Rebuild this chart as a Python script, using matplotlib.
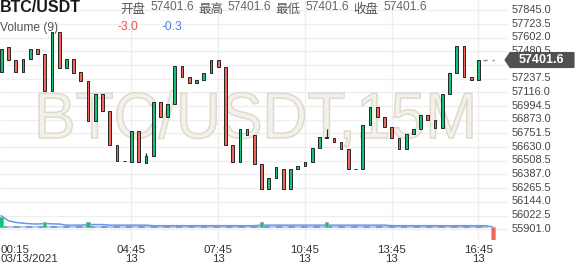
import numpy as np
import pandas as pd
import matplotlib
matplotlib.use("Agg")
import matplotlib.pyplot as plt
from matplotlib.transforms import blended_transform_factory, Affine2D
from matplotlib.textpath import TextPath
from matplotlib.font_manager import FontProperties
from matplotlib.patches import PathPatch, Polygon

# ---------------- data ----------------
opens = [57294, 57516, 57405, 57294, 57410, 57499, 57454, 57131, 57650, 57330,
         57410, 57294, 57220, 56862, 57099, 56951, 56646, 56509, 56500, 56773,
         56491, 56551, 57028, 56895, 57010, 57350, 57250, 57197, 57223, 57285,
         57401, 57339, 56646, 56495, 56788, 56735, 56477, 56255, 56353, 56433,
         56255, 56433, 56462, 56495, 56619, 56717, 56708, 56673, 56610, 56438,
         56438, 56824, 56983, 56900, 56811, 56708, 56610, 56744, 56788, 56912,
         56871, 56797, 57099, 57285, 57528, 57255, 57223]
closes = [57499, 57405, 57294, 57410, 57499, 57454, 57131, 57650, 57330, 57410,
          57285, 57220, 56862, 57099, 56951, 56646, 56509, 56509, 56773, 56500,
          56551, 57028, 56895, 57010, 57350, 57250, 57197, 57223, 57285, 57401,
          57339, 56646, 56495, 56788, 56735, 56477, 56255, 56353, 56453, 56255,
          56433, 56462, 56495, 56619, 56717, 56712, 56673, 56610, 56433, 56438,
          56824, 56983, 56900, 56811, 56708, 56610, 56744, 56788, 56912, 56871,
          56797, 57099, 57285, 57528, 57255, 57223, 57401.6]
highs = [57499, 57516, 57405, 57410, 57499, 57499, 57454, 57650, 57650, 57410,
         57410, 57294, 57220, 57099, 57099, 56951, 56646, 56509, 56773, 56773,
         56580, 57028, 57028, 57010, 57350, 57350, 57250, 57223, 57285, 57401,
         57401, 57339, 56646, 56788, 56788, 56735, 56477, 56353, 56453, 56433,
         56433, 56462, 56495, 56619, 56717, 56788, 56708, 56673, 56610, 56438,
         56824, 56983, 56983, 56900, 56811, 56708, 56744, 56788, 56912, 56912,
         56871, 57099, 57285, 57528, 57528, 57255, 57401.6]
lows = [57294, 57405, 57294, 57294, 57410, 57454, 57131, 57131, 57330, 57330,
        57285, 57220, 56862, 56862, 56951, 56646, 56509, 56509, 56500, 56500,
        56491, 56551, 56895, 56895, 57010, 57250, 57197, 57197, 57223, 57285,
        57339, 56646, 56495, 56495, 56735, 56477, 56255, 56255, 56353, 56255,
        56255, 56433, 56462, 56495, 56619, 56708, 56673, 56610, 56433, 56438,
        56438, 56824, 56900, 56811, 56708, 56610, 56610, 56744, 56788, 56871,
        56797, 56797, 57099, 57285, 57255, 57223, 57223]

vol_idx = [0, 6, 12, 36, 45, 68]
vol_val = [2.3, 1.2, 1.2, 1.2, 1.2, -3.0]
vol_ma_period = 9

price_ticks = [57845.0, 57723.5, 57602.0, 57480.5, 57359.0, 57237.5, 57116.0,
               56994.5, 56873.0, 56751.5, 56630.0, 56508.5, 56387.0, 56265.5,
               56144.0, 56022.5, 55901.0]
tick_idx = [18, 30, 42, 54, 66]
tick_time = ['04:45', '07:45', '10:45', '13:45', '16:45']
tick_day = ['13', '13', '13', '13', '13']
first_time = '00:15'
first_date = '03/13/2021'
last_price = 57401.6
symbol = 'BTC/USDT'
watermark = 'BTC/USDT,15M'
ohlc_names = ['开盘', '最高', '最低', '收盘']
ohlc_vals = ['57401.6', '57401.6', '57401.6', '57401.6']
vol_title = 'Volume (9)'
vol_last = '-3.0'
ma_last = '-0.3'

# ---------------- style ----------------
W, H = 576, 268
GREEN = '#12c27a'
RED = '#f2665a'
EDGE = '#262626'
GRID = '#efefef'
TXT = '#444444'
LAT = 'Liberation Sans'
CJK = ['Noto Sans CJK SC', 'Liberation Sans']

def fx(px):
    return px / W

def fy(py):
    return 1 - py / H

def pt(px):
    return px * 72 / 100.0

fig = plt.figure(figsize=(W / 100, H / 100), dpi=100)
fig.patch.set_facecolor('white')

PLOT_R = 508
PLOT_B = 240
ax = fig.add_axes([0, fy(PLOT_B), fx(PLOT_R), PLOT_B / H])
ax.set_facecolor('none')
for s in ax.spines.values():
    s.set_visible(False)
ax.set_xticks([])
ax.set_yticks([])

step_px = 7.23
x0_px = 1.3
ax.set_xlim((0 - x0_px) / step_px, (PLOT_R - x0_px) / step_px)
pp = 121.5 / 13.68
ax.set_ylim(57845 - (PLOT_B - 10.3) * pp, 57845 + 10.3 * pp)

xmin, xmax = ax.get_xlim()
ax.hlines(price_ticks, xmin, xmax, color=GRID, lw=1, zorder=0.5)
ax.vlines(tick_idx, *ax.get_ylim(), color=GRID, lw=1, zorder=0.5)

# watermark as outlined text path fitted to its box
tp = TextPath((0, 0), watermark, size=1, prop=FontProperties(family=LAT))
verts = tp.vertices
bx0, bx1 = verts[:, 0].min(), verts[:, 0].max()
cap = 0.716
sx = (472 - 34) / (bx1 - bx0)
sy = (138 - 91.5) / cap
tr = Affine2D().translate(-bx0, 0).scale(sx / W, sy / H).translate(fx(34), fy(138))
wm = PathPatch(tr.transform_path(tp), transform=fig.transFigure, facecolor='#f3f1ea',
               edgecolor='#dfdacd', lw=1.1, zorder=1, clip_on=False)
ax.add_artist(wm)

# candles
idx = np.arange(len(opens))
for i, o, h, l, c in zip(idx, opens, highs, lows, closes):
    if h > max(o, c) or l < min(o, c):
        ax.vlines(i, l, h, color=EDGE, lw=0.9, zorder=2)
    if c > o:
        col = GREEN
    elif c < o:
        col = RED
    else:
        col = EDGE
    ax.bar(i, abs(c - o), bottom=min(o, c), width=0.38, color=col,
           edgecolor=EDGE, lw=0.7, zorder=3)

# last price dashed line
n = len(opens)
ax.hlines(last_price, n - 1 + 0.63, n - 1 + 2.15, color='#888888', lw=1,
          linestyles=(0, (3, 3.5)), zorder=2)

# ---------------- volume pane ----------------
axv = fig.add_axes([0, fy(PLOT_B), fx(PLOT_R), 40 / H])
axv.set_facecolor('none')
for s in axv.spines.values():
    s.set_visible(False)
axv.set_xticks([])
axv.set_yticks([])
axv.set_xlim(ax.get_xlim())
vs = 4.3
axv.set_ylim(-(PLOT_B - 227) / vs, (227 - 200) / vs)

vol_full = pd.Series(0.0, index=np.arange(max(vol_idx) + 1))
vol_full[vol_idx] = vol_val
vol_ma = vol_full.rolling(vol_ma_period, min_periods=1).mean()

axv.hlines(0, 0, max(vol_idx) - 0.7, color='#b3c9f0', lw=1.5, zorder=1)
axv.hlines(0, 0, max(vol_idx) - 0.7, color='#7b9de0', lw=1.5,
           linestyles=(0, (3, 3)), zorder=1.1)
axv.plot(vol_ma.index, vol_ma.values + 0.3, color='#6e97e2', lw=1.1, zorder=1.2)
vcols = [GREEN if v > 0 else RED for v in vol_val]
vedge = ['#7fb89a' if v > 0 else '#e9a39c' for v in vol_val]
axv.bar(vol_idx, vol_val, width=0.5, color=vcols, edgecolor=vedge, lw=0.6, zorder=2)

# ---------------- axis labels ----------------
bt = blended_transform_factory(fig.transFigure, ax.transData)
for p in price_ticks:
    if abs(p - last_price) < 60:
        continue  # hidden under the last-price tag
    ax.text(fx(512), p + 4, f'{p:.1f}', transform=bt, ha='left', va='center',
            fontsize=pt(11), color=TXT, family=LAT, clip_on=False, zorder=5)

# last price tag
tag = Polygon([[fx(505), fy(60)], [fx(510), fy(52.5)], [fx(574), fy(52.5)],
               [fx(574), fy(67.5)], [fx(510), fy(67.5)]], closed=True,
              transform=fig.transFigure, facecolor='#505050', edgecolor='#505050',
              lw=0.8, zorder=10)
fig.add_artist(tag)
fig.text(fx(541.5), fy(60), f'{last_price:.1f}', ha='center', va='center',
         fontsize=pt(12.5), fontweight='bold', color='white', family=LAT, zorder=11)

bx = blended_transform_factory(ax.transData, fig.transFigure)
for i, t, d in zip(tick_idx, tick_time, tick_day):
    fig.text(i, fy(250), t, transform=bx, ha='center', va='center',
             fontsize=pt(11.5), color='#333333', family=LAT)
    fig.text(i, fy(259.5), d, transform=bx, ha='center', va='center',
             fontsize=pt(11.5), color='#333333', family=LAT)
fig.text(fx(0.5), fy(250), first_time, ha='left', va='center',
         fontsize=pt(11.5), color='#333333', family=LAT)
fig.text(fx(0.5), fy(259.5), first_date, ha='left', va='center',
         fontsize=pt(11.5), color='#333333', family=LAT)

# ---------------- header ----------------
fig.text(fx(0), fy(7.5), symbol, ha='left', va='center', fontsize=pt(16),
         fontweight='bold', color='#1a1a1a', family=LAT, zorder=12)
name_x = [120, 198, 275, 353]
val_x = [150.5, 228, 306, 383.5]
for nx_, nm, vx_, vv in zip(name_x, ohlc_names, val_x, ohlc_vals):
    fig.text(fx(nx_), fy(9), nm, ha='left', va='center', fontsize=pt(12.5),
             color='#555555', family=CJK, zorder=12)
    fig.text(fx(vx_), fy(6.5), vv, ha='left', va='center', fontsize=pt(12),
             color='#666666', family=LAT, zorder=12)
fig.text(fx(0), fy(28.5), vol_title, ha='left', va='center', fontsize=pt(12),
         color='#555555', family=LAT, zorder=12)
fig.text(fx(117), fy(27.5), vol_last, ha='left', va='center', fontsize=pt(12),
         color='#e0554b', family=LAT, zorder=12)
fig.text(fx(162), fy(27.5), ma_last, ha='left', va='center', fontsize=pt(12),
         color='#4a80e0', family=LAT, zorder=12)

fig.savefig('out.png', dpi=100)
